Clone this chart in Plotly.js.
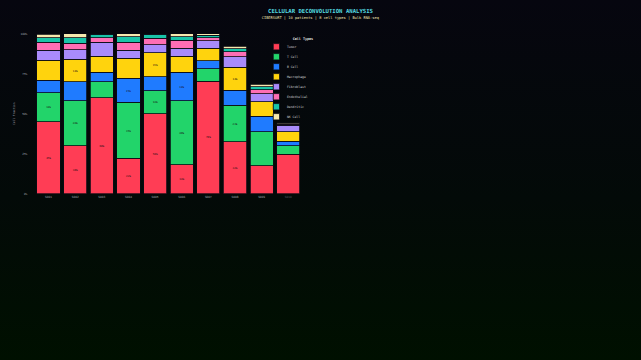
<!DOCTYPE html>
<html>
<head>
<meta charset="utf-8">
<script src="https://cdn.plot.ly/plotly-3.0.1.min.js"></script>
<style>
  html, body { margin: 0; padding: 0; width: 641px; height: 360px; overflow: hidden;
    background: linear-gradient(180deg, #06060f 0%, #030a08 55%, #001000 100%); }
  #wrap { width: 1218px; height: 684px; transform: scale(0.52627); transform-origin: 0 0; }
  #chart { width: 1218px; height: 684px; }
</style>
</head>
<body>
<div id="wrap"><div id="chart"></div></div>
<script>
// Samples (x categories)
const samples = ['S001','S002','S003','S004','S005','S006','S007','S008','S009','S010'];
// Cell type fractions (%) per sample
const tumor      = [45.0, 30.0, 60.0, 22.0, 50.0, 18.0, 70.3, 32.4, 17.5, 24.5];
const tCell      = [18.0, 28.0, 10.0, 35.0, 14.3, 40.0,  7.7, 22.9, 21.3,  5.5];
const bCell      = [ 8.0, 12.0,  6.0, 15.0,  8.7, 18.0,  5.0,  9.4,  9.6,  2.8];
const macrophage = [12.5, 14.0, 10.0, 12.5, 15.0, 10.0,  8.0, 14.3,  9.0,  5.8];
const fibroblast = [ 6.3,  6.0,  8.5,  5.2,  5.0,  5.0,  4.5,  6.5,  5.0,  4.2];
const endothelial= [ 4.8,  4.0,  3.0,  4.8,  4.0,  5.0,  2.1,  3.1,  2.7,  0.6];
const dendritic  = [ 2.9,  3.5,  2.0,  3.5,  2.5,  2.0,  1.4,  2.1,  1.7,  0.4];
const nkCell     = [ 2.3,  2.5,  0.5,  2.0,  0.5,  2.0,  1.0,  1.5,  1.5,  0.5];
// Which samples carry in-bar percentage labels
const labelled   = [1, 1, 1, 1, 1, 1, 1, 1, 0, 0];
const cellTypes  = ['Tumor','T Cell','B Cell','Macrophage','Fibroblast','Endothelial','Dendritic','NK Cell'];
const yTicks     = [0, 25, 50, 75, 100];
const yTickText  = ['0%','25%','50%','75%','100%'];

const series = [tumor, tCell, bCell, macrophage, fibroblast, endothelial, dendritic, nkCell];
const colors = ['#ff3d55','#22d46a','#1f7bff','#ffd30d','#a98bfb','#ff6eb4','#19c4a8','#f7e9ae'];
const MONO = '"DejaVu Sans Mono", "Liberation Mono", monospace';

const traces = series.map((vals, k) => ({
  type: 'bar',
  name: cellTypes[k],
  x: samples,
  y: vals,
  text: vals.map((v, i) => (labelled[i] && v >= 13) ? Math.round(v) + '%' : ''),
  textposition: 'inside',
  insidetextanchor: 'middle',
  textangle: 0,
  textfont: { family: MONO, size: 5, color: '#1a1014' },
  constraintext: 'none',
  marker: { color: colors[k], line: { color: '#0a0b14', width: 1.5 } },
  hoverinfo: 'skip'
}));

const tickText = samples.map((s, i) => labelled[i] || i === 8 ? s : '<span style="fill:#5a5e66">' + s + '</span>');

const layout = {
  width: 1218, height: 684,
  barmode: 'stack',
  bargap: 0.13,
  paper_bgcolor: 'rgba(0,0,0,0)',
  plot_bgcolor: 'rgba(0,0,0,0)',
  margin: { l: 66.5, r: 645, t: 63.7, b: 316.3, pad: 0 },
  font: { family: MONO, color: '#c8c8c8' },
  title: {
    text: '<b>CELLULAR DECONVOLUTION ANALYSIS</b>',
    font: { family: MONO, size: 10.7, color: '#55dce0' },
    x: 0.5, xanchor: 'center', xref: 'container',
    y: 1 - 20.9 / 684, yanchor: 'middle', yref: 'container'
  },
  annotations: [
    { text: 'CIBERSORT | 10 patients | 8 cell types | Bulk RNA-seq',
      xref: 'paper', yref: 'paper', x: (609 - 66.5) / 506.5, y: 1 + (63.7 - 34.2) / 304,
      xanchor: 'center', yanchor: 'middle', showarrow: false,
      font: { family: MONO, size: 7, color: '#f3e6b4' } },
    { text: '<b>Cell Types</b>',
      xref: 'paper', yref: 'paper', x: (575.7 - 66.5) / 506.5, y: 1 - (74.1 - 63.7) / 304,
      xanchor: 'center', yanchor: 'middle', showarrow: false,
      font: { family: MONO, size: 6.5, color: '#e6e6e6' } }
  ],
  xaxis: {
    type: 'category',
    tickvals: samples, ticktext: tickText,
    tickfont: { family: MONO, size: 5.5, color: '#a8acb4' },
    showgrid: false, zeroline: false, showline: false, ticks: '',
    ticklabelstandoff: 2
  },
  yaxis: {
    range: [0, 100],
    tickvals: yTicks, ticktext: yTickText,
    tickfont: { family: MONO, size: 5.5, color: '#a8acb4' },
    showgrid: false, zeroline: false, showline: false, ticks: '',
    ticklabelstandoff: 14,
    title: { text: 'Cell Fraction', font: { family: MONO, size: 5.5, color: '#a8acb4' }, standoff: 8 }
  },
  showlegend: true,
  legend: {
    x: 0.866, y: 0.966, xanchor: 'left', yanchor: 'top',
    traceorder: 'normal',
    bgcolor: 'rgba(0,0,0,0)', borderwidth: 0,
    font: { family: MONO, size: 6, color: '#cfd0d4' }
  }
};

Plotly.newPlot('chart', traces, layout, { staticPlot: true, displayModeBar: false });
</script>
</body>
</html>
